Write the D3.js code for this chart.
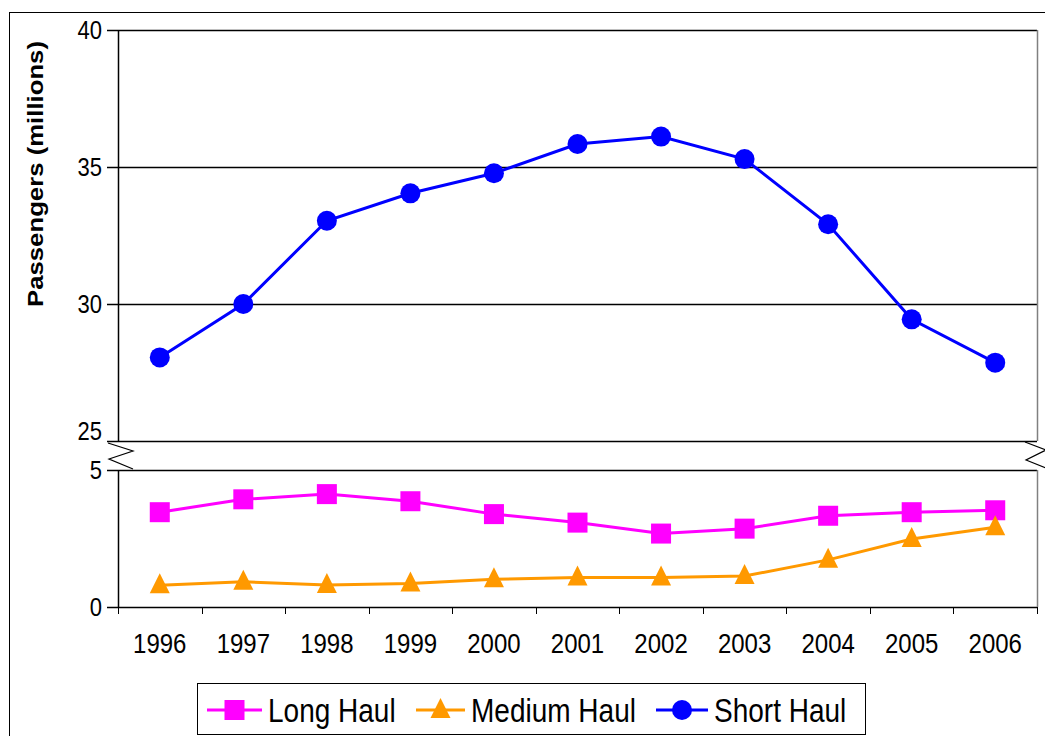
<!DOCTYPE html>
<html>
<head>
<meta charset="utf-8">
<script src="https://cdn.jsdelivr.net/npm/d3@7"></script>
<style>
  html, body { margin: 0; padding: 0; background: #fff; }
  svg text { font-family: "Liberation Sans", Arial, sans-serif; fill: #000; }
</style>
</head>
<body>
<svg id="chart" width="1045" height="736"></svg>
<script>
// Passenger numbers by haul length, in millions
const years = ["1996","1997","1998","1999","2000","2001","2002","2003","2004","2005","2006"];
const longHaul   = [3.46, 3.93, 4.12, 3.86, 3.39, 3.08, 2.68, 2.86, 3.33, 3.46, 3.53];
const mediumHaul = [0.79, 0.92, 0.80, 0.86, 1.01, 1.08, 1.08, 1.13, 1.72, 2.48, 2.91];
const shortHaul  = [28.05, 30.0, 33.04, 34.04, 34.77, 35.84, 36.11, 35.29, 32.91, 29.44, 27.86];
const upperTicks = [25, 30, 35, 40];
const lowerTicks = [0, 5];
const seriesNames = ["Long Haul", "Medium Haul", "Short Haul"];

// text is drawn slightly taller than wide
const TALL = 1.17;

const svg = d3.select("#chart");

// outer frame
svg.append("rect").attr("x", 9.5).attr("y", 12.5).attr("width", 1045).attr("height", 740)
  .attr("fill", "#fff").attr("stroke", "#000").attr("stroke-width", 1);

const left = 118, right = 1037;
const x = d3.scaleBand().domain(years).range([left, right]);
const xc = d => x(d) + x.bandwidth() / 2;

// broken value axis: upper panel 25–40, lower panel 0–5, same units per pixel
const yUp = d3.scaleLinear().domain([25, 40]).range([441, 30]);
const yLo = d3.scaleLinear().domain([0, 5]).range([607, 470]);

function tallText(sel, tx, ty, extra) {
  return sel.attr("transform", `translate(${tx},${ty}) scale(1,${TALL})${extra || ""}`);
}

// upper panel gridlines and frame
const gUp = svg.append("g");
gUp.selectAll("line.grid").data(upperTicks).join("line")
  .attr("x1", 107).attr("x2", right)
  .attr("y1", d => Math.round(yUp(d)) + 0.5).attr("y2", d => Math.round(yUp(d)) + 0.5)
  .attr("stroke", "#000").attr("stroke-width", 1.5);
gUp.append("line").attr("x1", right + 0.5).attr("x2", right + 0.5)
  .attr("y1", yUp(40)).attr("y2", yUp(25)).attr("stroke", "#808080").attr("stroke-width", 1.5);
gUp.append("line").attr("x1", left + 0.5).attr("x2", left + 0.5)
  .attr("y1", yUp(40)).attr("y2", yUp(25)).attr("stroke", "#000").attr("stroke-width", 1.5);

// lower panel frame and axis
const gLo = svg.append("g");
gLo.selectAll("line.grid").data(lowerTicks).join("line")
  .attr("x1", 107).attr("x2", right)
  .attr("y1", d => Math.round(yLo(d)) + 0.5).attr("y2", d => Math.round(yLo(d)) + 0.5)
  .attr("stroke", "#000").attr("stroke-width", 1.5);
gLo.append("line").attr("x1", right + 0.5).attr("x2", right + 0.5)
  .attr("y1", yLo(5)).attr("y2", yLo(0)).attr("stroke", "#808080").attr("stroke-width", 1.5);
gLo.append("line").attr("x1", left + 0.5).attr("x2", left + 0.5)
  .attr("y1", yLo(5)).attr("y2", yLo(0)).attr("stroke", "#000").attr("stroke-width", 1.5);

// y tick labels (the bottom label of the upper panel sits clear of the break)
svg.selectAll("text.yup").data(upperTicks).join("text")
  .each(function (d) { tallText(d3.select(this), 102, yUp(d) - (d === 25 ? 10 : 0)); })
  .attr("dy", "0.36em").attr("text-anchor", "end").style("font-size", "22px").text(d => d);
svg.selectAll("text.ylo").data(lowerTicks).join("text")
  .each(function (d) { tallText(d3.select(this), 102, yLo(d)); })
  .attr("dy", "0.36em").attr("text-anchor", "end").style("font-size", "22px").text(d => d);

// category axis: ticks on the band edges, labels centred in the bands
const gx = svg.append("g").attr("transform", `translate(0,${yLo(0)})`);
const bounds = years.map(d => x(d)).concat([right]);
gx.selectAll("line.tk").data(bounds).join("line")
  .attr("x1", d => Math.round(d) + 0.5).attr("x2", d => Math.round(d) + 0.5)
  .attr("y1", 0).attr("y2", 7).attr("stroke", "#000").attr("stroke-width", 1);
gx.selectAll("text.xl").data(years).join("text")
  .each(function (d) { tallText(d3.select(this), xc(d), 46); })
  .attr("text-anchor", "middle").style("font-size", "24px").text(d => d);

// axis break marks
const zig = d3.line();
svg.append("path").attr("d", zig([[108, 443], [133, 451], [109, 459], [133, 469]]))
  .attr("fill", "none").attr("stroke", "#000").attr("stroke-width", 1.2);
svg.append("path").attr("d", zig([[1025, 442], [1046, 450], [1026, 460], [1046, 468]]))
  .attr("fill", "none").attr("stroke", "#000").attr("stroke-width", 1.2);

// y-axis title
svg.append("text")
  .attr("transform", `translate(43,174) scale(1,${TALL}) rotate(-90)`)
  .attr("text-anchor", "middle")
  .style("font-size", "22px").style("font-weight", "bold")
  .text("Passengers (millions)");

// series
const colors = { "Long Haul": "#FF00FF", "Medium Haul": "#FF9900", "Short Haul": "#0000FF" };
const line = (yScale, vals) => d3.line().x((d, i) => xc(years[i])).y(d => yScale(d))(vals);

function marker(g, type, cx, cy, color) {
  if (type === "square") {
    g.append("rect").attr("x", cx - 10).attr("y", cy - 10).attr("width", 20).attr("height", 20).attr("fill", color);
  } else if (type === "triangle") {
    g.append("path").attr("d", `M${cx},${cy - 12}L${cx + 10},${cy + 8}L${cx - 10},${cy + 8}Z`).attr("fill", color);
  } else {
    g.append("circle").attr("cx", cx).attr("cy", cy).attr("r", 10).attr("fill", color);
  }
}

const specs = [
  { name: "Long Haul", vals: longHaul, y: yLo, type: "square" },
  { name: "Medium Haul", vals: mediumHaul, y: yLo, type: "triangle" },
  { name: "Short Haul", vals: shortHaul, y: yUp, type: "circle" }
];
specs.forEach(s => {
  const g = svg.append("g");
  g.append("path").attr("d", line(s.y, s.vals)).attr("fill", "none")
    .attr("stroke", colors[s.name]).attr("stroke-width", 3);
  s.vals.forEach((v, i) => marker(g, s.type, xc(years[i]), s.y(v), colors[s.name]));
});

// legend
const lg = svg.append("g");
lg.append("rect").attr("x", 197.5).attr("y", 683.5).attr("width", 668).attr("height", 51)
  .attr("fill", "#fff").attr("stroke", "#000").attr("stroke-width", 1);
const legendItems = [
  { name: "Long Haul", type: "square", x0: 207, x1: 262, tx: 268 },
  { name: "Medium Haul", type: "triangle", x0: 416, x1: 465, tx: 471 },
  { name: "Short Haul", type: "circle", x0: 656, x1: 708, tx: 714 }
];
legendItems.forEach(it => {
  const cy = 710;
  lg.append("line").attr("x1", it.x0).attr("x2", it.x1).attr("y1", cy).attr("y2", cy)
    .attr("stroke", colors[it.name]).attr("stroke-width", 3);
  marker(lg, it.type, (it.x0 + it.x1) / 2, cy, colors[it.name]);
  tallText(lg.append("text"), it.tx, cy).attr("dy", "0.36em")
    .style("font-size", "28px").text(it.name);
});
</script>
</body>
</html>
